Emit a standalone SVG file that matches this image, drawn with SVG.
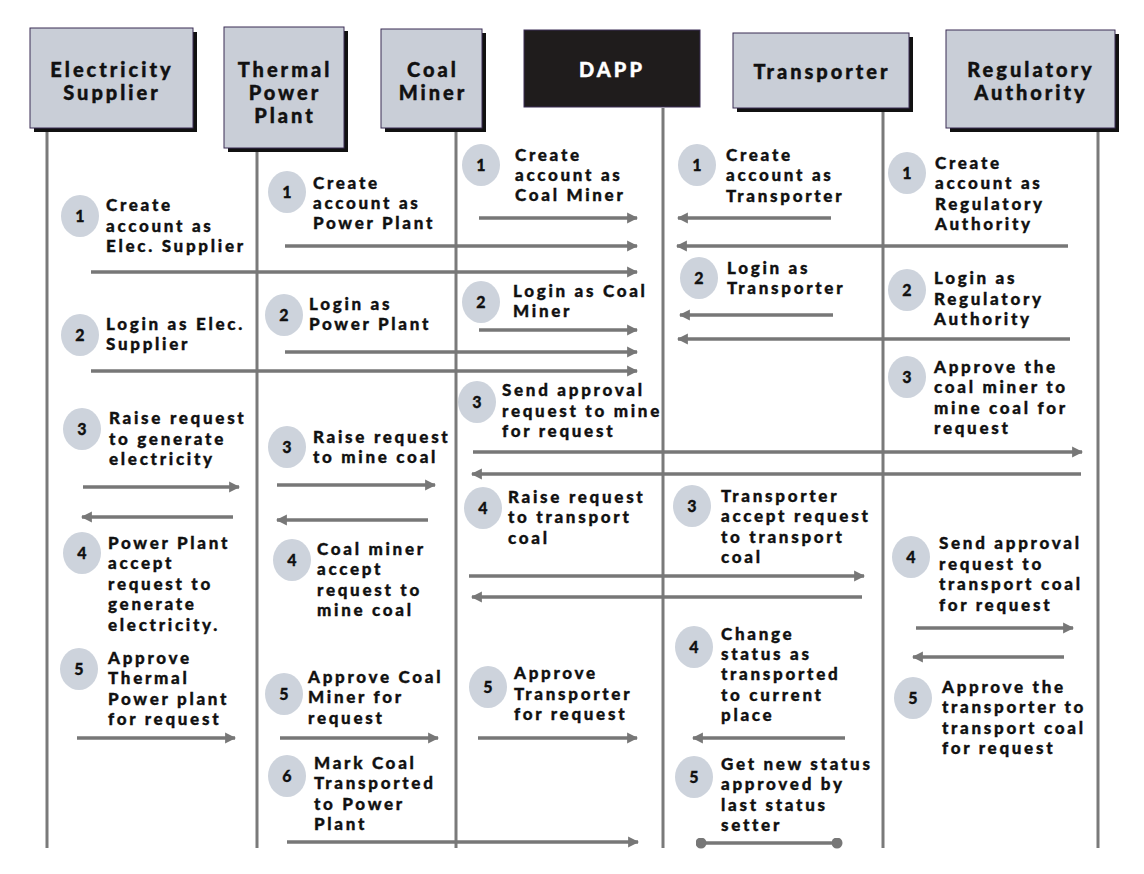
<svg xmlns="http://www.w3.org/2000/svg" width="1144" height="874" viewBox="0 0 1144 874">
<defs>
<marker id="ah" viewBox="0 0 10 10" refX="9" refY="5" markerUnits="userSpaceOnUse" markerWidth="11" markerHeight="12" orient="auto"><path d="M0,0 L10,5 L0,10 z" fill="#777"/></marker>
<marker id="dot" viewBox="0 0 10 10" refX="5" refY="5" markerUnits="userSpaceOnUse" markerWidth="11" markerHeight="11"><circle cx="5" cy="5" r="5" fill="#777"/></marker>
</defs>
<style>
.box{fill:#c9ced7;stroke:#3b2d55;stroke-width:1}
.shadow{fill:#111}
.ht{font-family:Lato,"Open Sans",sans-serif;font-weight:900;font-size:20px;letter-spacing:3px;fill:#111;stroke:#111;stroke-width:0.4;text-anchor:middle}
.life{stroke:#7a7a7a;stroke-width:3;fill:none}
.msg{stroke:#777;stroke-width:3.5;fill:none;marker-end:url(#ah)}
.badge{fill:#cdd3dc}
.bn{font-family:Lato,"Open Sans",sans-serif;font-weight:900;font-size:16px;fill:#111;stroke:#111;stroke-width:0.3;text-anchor:middle}
.t{font-family:Lato,"Open Sans",sans-serif;font-weight:900;font-size:17px;letter-spacing:2.7px;fill:#111;stroke:#111;stroke-width:0.35}
</style>
<rect width="1144" height="874" fill="#fff"/>
<g id="lifelines">
<line class="life" x1="47" y1="130" x2="47" y2="848"/>
<line class="life" x1="257" y1="150" x2="257" y2="848"/>
<line class="life" x1="456" y1="130" x2="456" y2="848"/>
<line class="life" x1="663" y1="108" x2="663" y2="848"/>
<line class="life" x1="883" y1="110" x2="883" y2="848"/>
<line class="life" x1="1098" y1="130" x2="1098" y2="848"/>
</g>
<g id="elec-supplier">
<rect class="shadow" x="34" y="32" width="163" height="100"/>
<rect class="box" x="30" y="28" width="163" height="100"/>
<text class="ht" x="112" y="77">Electricity</text>
<text class="ht" x="112" y="100">Supplier</text>
</g>
<g id="thermal-plant">
<rect class="shadow" x="228" y="31" width="120" height="121"/>
<rect class="box" x="224" y="27" width="120" height="121"/>
<text class="ht" x="285" y="77">Thermal</text>
<text class="ht" x="285" y="100">Power</text>
<text class="ht" x="285" y="123">Plant</text>
</g>
<g id="coal-miner">
<rect class="shadow" x="385" y="33" width="101" height="99"/>
<rect class="box" x="381" y="29" width="101" height="99"/>
<text class="ht" x="433" y="77">Coal</text>
<text class="ht" x="433" y="100">Miner</text>
</g>
<g id="dapp">
<rect x="524" y="30" width="176" height="77" fill="#1f1c1c" stroke="#3b2d55" stroke-width="1"/>
<text class="ht" x="612" y="77" style="fill:#fff;stroke:#fff">DAPP</text>
</g>
<g id="transporter">
<rect class="shadow" x="737" y="37" width="176" height="75"/>
<rect class="box" x="733" y="33" width="176" height="75"/>
<text class="ht" x="822" y="79">Transporter</text>
</g>
<g id="regulatory">
<rect class="shadow" x="950" y="34" width="169" height="98"/>
<rect class="box" x="946" y="30" width="169" height="98"/>
<text class="ht" x="1031" y="77">Regulatory</text>
<text class="ht" x="1031" y="100">Authority</text>
</g>
<g id="connectors">
<line class="msg" x1="91" y1="272" x2="637" y2="272"/>
<line class="msg" x1="91" y1="371" x2="637" y2="371"/>
<line class="msg" x1="83" y1="487" x2="239" y2="487"/>
<line class="msg" x1="233" y1="517" x2="82" y2="517"/>
<line class="msg" x1="77" y1="738" x2="235" y2="738"/>
<line class="msg" x1="285" y1="246" x2="637" y2="246"/>
<line class="msg" x1="285" y1="352" x2="637" y2="352"/>
<line class="msg" x1="277" y1="485" x2="435" y2="485"/>
<line class="msg" x1="428" y1="520" x2="277" y2="520"/>
<line class="msg" x1="280" y1="738" x2="438" y2="738"/>
<line class="msg" x1="287" y1="842" x2="638" y2="842"/>
<line class="msg" x1="479" y1="218" x2="637" y2="218"/>
<line class="msg" x1="479" y1="330" x2="637" y2="330"/>
<line class="msg" x1="473" y1="452" x2="1082" y2="452"/>
<line class="msg" x1="1081" y1="474" x2="472" y2="474"/>
<line class="msg" x1="469" y1="576" x2="864" y2="576"/>
<line class="msg" x1="862" y1="597" x2="472" y2="597"/>
<line class="msg" x1="478" y1="738" x2="637" y2="738"/>
<line class="msg" x1="831" y1="218" x2="678" y2="218"/>
<line class="msg" x1="1068" y1="246" x2="677" y2="246"/>
<line class="msg" x1="833" y1="315" x2="680" y2="315"/>
<line class="msg" x1="1070" y1="339" x2="678" y2="339"/>
<line class="msg" x1="845" y1="738" x2="693" y2="738"/>
<line x1="701" y1="843" x2="837" y2="843" stroke="#777" stroke-width="3.5" marker-start="url(#dot)" marker-end="url(#dot)"/>
<line class="msg" x1="916" y1="628" x2="1073" y2="628"/>
<line class="msg" x1="1064" y1="657" x2="913" y2="657"/>
</g>
<g id="step-es-1"><ellipse class="badge" cx="80" cy="216" rx="19" ry="21"/><text class="bn" x="80" y="222">1</text>
<text class="t" x="106" y="211">Create</text><text class="t" x="106" y="232">account as</text><text class="t" x="106" y="252">Elec. Supplier</text></g>
<g id="step-es-2"><ellipse class="badge" cx="80" cy="335" rx="19" ry="21"/><text class="bn" x="80" y="341">2</text>
<text class="t" x="106" y="330">Login as Elec.</text><text class="t" x="106" y="350">Supplier</text></g>
<g id="step-es-3"><ellipse class="badge" cx="82" cy="429" rx="19" ry="21"/><text class="bn" x="82" y="435">3</text>
<text class="t" x="109" y="424">Raise request</text><text class="t" x="109" y="445">to generate</text><text class="t" x="109" y="465">electricity</text></g>
<g id="step-es-4"><ellipse class="badge" cx="82" cy="553" rx="19" ry="21"/><text class="bn" x="82" y="559">4</text>
<text class="t" x="108" y="549">Power Plant</text><text class="t" x="108" y="569">accept</text><text class="t" x="108" y="590">request to</text><text class="t" x="108" y="610">generate</text><text class="t" x="108" y="631">electricity.</text></g>
<g id="step-es-5"><ellipse class="badge" cx="79" cy="669" rx="19" ry="21"/><text class="bn" x="79" y="675">5</text>
<text class="t" x="108" y="664">Approve</text><text class="t" x="108" y="684">Thermal</text><text class="t" x="108" y="705">Power plant</text><text class="t" x="108" y="725">for request</text></g>
<g id="step-tp-1"><ellipse class="badge" cx="287" cy="192" rx="19" ry="21"/><text class="bn" x="287" y="198">1</text>
<text class="t" x="313" y="189">Create</text><text class="t" x="313" y="209">account as</text><text class="t" x="313" y="229">Power Plant</text></g>
<g id="step-tp-2"><ellipse class="badge" cx="284" cy="315" rx="19" ry="21"/><text class="bn" x="284" y="321">2</text>
<text class="t" x="309" y="310">Login as</text><text class="t" x="309" y="330">Power Plant</text></g>
<g id="step-tp-3"><ellipse class="badge" cx="287" cy="447" rx="19" ry="21"/><text class="bn" x="287" y="453">3</text>
<text class="t" x="313" y="443">Raise request</text><text class="t" x="313" y="463">to mine coal</text></g>
<g id="step-tp-4"><ellipse class="badge" cx="292" cy="560" rx="19" ry="21"/><text class="bn" x="292" y="566">4</text>
<text class="t" x="317" y="555">Coal miner</text><text class="t" x="317" y="575">accept</text><text class="t" x="317" y="596">request to</text><text class="t" x="317" y="616">mine coal</text></g>
<g id="step-tp-5"><ellipse class="badge" cx="284" cy="694" rx="19" ry="21"/><text class="bn" x="284" y="700">5</text>
<text class="t" x="308" y="683">Approve Coal</text><text class="t" x="308" y="703">Miner for</text><text class="t" x="308" y="724">request</text></g>
<g id="step-tp-6"><ellipse class="badge" cx="287" cy="776" rx="19" ry="21"/><text class="bn" x="287" y="782">6</text>
<text class="t" x="314" y="769">Mark Coal</text><text class="t" x="314" y="789">Transported</text><text class="t" x="314" y="810">to Power</text><text class="t" x="314" y="830">Plant</text></g>
<g id="step-cm-1"><ellipse class="badge" cx="481" cy="165" rx="19" ry="21"/><text class="bn" x="481" y="171">1</text>
<text class="t" x="515" y="161">Create</text><text class="t" x="515" y="181">account as</text><text class="t" x="515" y="201">Coal Miner</text></g>
<g id="step-cm-2"><ellipse class="badge" cx="481" cy="302" rx="19" ry="21"/><text class="bn" x="481" y="308">2</text>
<text class="t" x="513" y="297">Login as Coal</text><text class="t" x="513" y="317">Miner</text></g>
<g id="step-cm-3"><ellipse class="badge" cx="477" cy="402" rx="19" ry="21"/><text class="bn" x="477" y="408">3</text>
<text class="t" x="502" y="396">Send approval</text><text class="t" x="502" y="417">request to mine</text><text class="t" x="502" y="437">for request</text></g>
<g id="step-cm-4"><ellipse class="badge" cx="483" cy="508" rx="19" ry="21"/><text class="bn" x="483" y="514">4</text>
<text class="t" x="508" y="503">Raise request</text><text class="t" x="508" y="523">to transport</text><text class="t" x="508" y="544">coal</text></g>
<g id="step-cm-5"><ellipse class="badge" cx="488" cy="687" rx="19" ry="21"/><text class="bn" x="488" y="693">5</text>
<text class="t" x="514" y="679">Approve</text><text class="t" x="514" y="700">Transporter</text><text class="t" x="514" y="720">for request</text></g>
<g id="step-tr-1"><ellipse class="badge" cx="697" cy="165" rx="19" ry="21"/><text class="bn" x="697" y="171">1</text>
<text class="t" x="726" y="161">Create</text><text class="t" x="726" y="181">account as</text><text class="t" x="726" y="202">Transporter</text></g>
<g id="step-tr-2"><ellipse class="badge" cx="699" cy="278" rx="19" ry="21"/><text class="bn" x="699" y="284">2</text>
<text class="t" x="727" y="274">Login as</text><text class="t" x="727" y="294">Transporter</text></g>
<g id="step-tr-3"><ellipse class="badge" cx="692" cy="506" rx="19" ry="21"/><text class="bn" x="692" y="512">3</text>
<text class="t" x="721" y="502">Transporter</text><text class="t" x="721" y="522">accept request</text><text class="t" x="721" y="543">to transport</text><text class="t" x="721" y="563">coal</text></g>
<g id="step-tr-4"><ellipse class="badge" cx="694" cy="647" rx="19" ry="21"/><text class="bn" x="694" y="653">4</text>
<text class="t" x="721" y="640">Change</text><text class="t" x="721" y="660">status as</text><text class="t" x="721" y="680">transported</text><text class="t" x="721" y="701">to current</text><text class="t" x="721" y="721">place</text></g>
<g id="step-tr-5"><ellipse class="badge" cx="694" cy="777" rx="19" ry="21"/><text class="bn" x="694" y="783">5</text>
<text class="t" x="721" y="770">Get new status</text><text class="t" x="721" y="790">approved by</text><text class="t" x="721" y="811">last status</text><text class="t" x="721" y="831">setter</text></g>
<g id="step-ra-1"><ellipse class="badge" cx="907" cy="173" rx="19" ry="21"/><text class="bn" x="907" y="179">1</text>
<text class="t" x="935" y="169">Create</text><text class="t" x="935" y="189">account as</text><text class="t" x="935" y="210">Regulatory</text><text class="t" x="935" y="230">Authority</text></g>
<g id="step-ra-2"><ellipse class="badge" cx="907" cy="290" rx="19" ry="21"/><text class="bn" x="907" y="296">2</text>
<text class="t" x="934" y="284">Login as</text><text class="t" x="934" y="305">Regulatory</text><text class="t" x="934" y="325">Authority</text></g>
<g id="step-ra-3"><ellipse class="badge" cx="907" cy="377" rx="19" ry="21"/><text class="bn" x="907" y="383">3</text>
<text class="t" x="934" y="373">Approve the</text><text class="t" x="934" y="393">coal miner to</text><text class="t" x="934" y="414">mine coal for</text><text class="t" x="934" y="434">request</text></g>
<g id="step-ra-4"><ellipse class="badge" cx="911" cy="557" rx="19" ry="21"/><text class="bn" x="911" y="563">4</text>
<text class="t" x="939" y="549">Send approval</text><text class="t" x="939" y="570">request to</text><text class="t" x="939" y="590">transport coal</text><text class="t" x="939" y="611">for request</text></g>
<g id="step-ra-5"><ellipse class="badge" cx="913" cy="698" rx="19" ry="21"/><text class="bn" x="913" y="704">5</text>
<text class="t" x="942" y="693">Approve the</text><text class="t" x="942" y="713">transporter to</text><text class="t" x="942" y="734">transport coal</text><text class="t" x="942" y="754">for request</text></g>
</svg>
